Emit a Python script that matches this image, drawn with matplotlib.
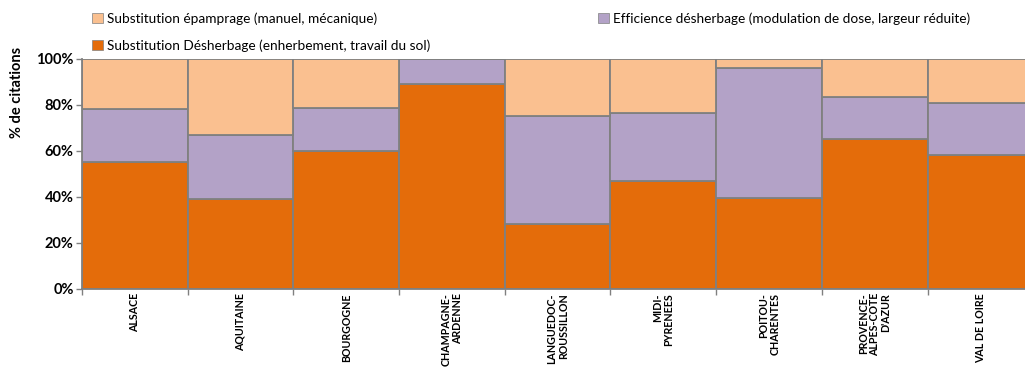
import matplotlib
matplotlib.use("Agg")
import matplotlib.pyplot as plt
from matplotlib.patches import Patch
import numpy as np

plt.rcParams['font.family'] = ['Lato', 'DejaVu Sans']

regions = ["ALSACE", "AQUITAINE", "BOURGOGNE", "CHAMPAGNE-\nARDENNE",
           "LANGUEDOC-\nROUSSILLON", "MIDI-\nPYRENEES", "POITOU-\nCHARENTES",
           "PROVENCE-\nALPES-COTE\nD'AZUR", "VAL DE LOIRE"]
# share of citations (%) per category
desherbage_subst = [55, 39, 60, 89, 28, 47, 39.5, 65, 58]
desherbage_effic = [23, 28, 18.5, 11, 47, 29.5, 56.5, 18.5, 23]
epamprage_subst = [22, 33, 21.5, 0, 25, 23.5, 4, 16.5, 19]

series_labels = ["Substitution épamprage (manuel, mécanique)",
                 "Substitution Désherbage (enherbement, travail du sol)",
                 "Efficience désherbage (modulation de dose, largeur réduite)"]
c_orange = "#E46C0A"
c_purple = "#B3A2C7"
c_beige = "#FAC090"
edge = "#808080"

fig = plt.figure(figsize=(10.25, 3.68), dpi=100)
ax = fig.add_axes([0.080, 0.215, 0.928, 0.625])

x = np.arange(len(regions)) + 0.5
b1 = np.array(desherbage_subst)
b2 = b1 + np.array(desherbage_effic)
ax.bar(x, desherbage_subst, width=1, color=c_orange, edgecolor=edge, linewidth=1.3)
ax.bar(x, desherbage_effic, width=1, bottom=b1, color=c_purple, edgecolor=edge, linewidth=1.3)
ax.bar(x, epamprage_subst, width=1, bottom=b2, color=c_beige, edgecolor=edge, linewidth=1.3)

ax.set_xlim(0, len(regions))
ax.set_ylim(0, 100)
ax.set_yticks([0, 20, 40, 60, 80, 100])
ax.set_yticklabels(["0%", "20%", "40%", "60%", "80%", "100%"], fontweight='bold', fontsize=10.5)
ax.set_xticks(np.arange(len(regions) + 1))
ax.set_xticklabels([])
ax.set_xticks(x, minor=True)
ax.set_xticklabels(regions, minor=True, rotation=90, fontweight='bold', fontsize=7.7,
                   va='top', ha='center', multialignment='right', linespacing=1.05)
ax.tick_params(axis='x', which='minor', length=0, pad=3)
ax.tick_params(axis='x', which='major', length=4, color=edge, width=1)
ax.tick_params(axis='y', length=4, color=edge, width=1, pad=2)
for s in ['top', 'right']:
    ax.spines[s].set_visible(False)
for s in ['left', 'bottom']:
    ax.spines[s].set_color(edge)
    ax.spines[s].set_linewidth(1.3)

fig.text(0.017, 0.75, "% de citations", rotation=90, fontweight='bold', fontsize=10.5,
         ha='center', va='center')

handles = [Patch(facecolor=c_beige, edgecolor=edge, linewidth=0.5),
           Patch(facecolor=c_orange, edgecolor=edge, linewidth=0.5),
           Patch(facecolor=c_purple, edgecolor=edge, linewidth=0.5)]
labels = [series_labels[0], series_labels[1], series_labels[2]]
fig.legend(handles, labels, ncol=2, loc='upper left', bbox_to_anchor=(0.078, 1.0),
           frameon=False, fontsize=9.8, handlelength=0.8, handleheight=0.8,
           handletextpad=0.3, columnspacing=12.3, labelspacing=1.05)

fig.savefig("out.png", dpi=100)
